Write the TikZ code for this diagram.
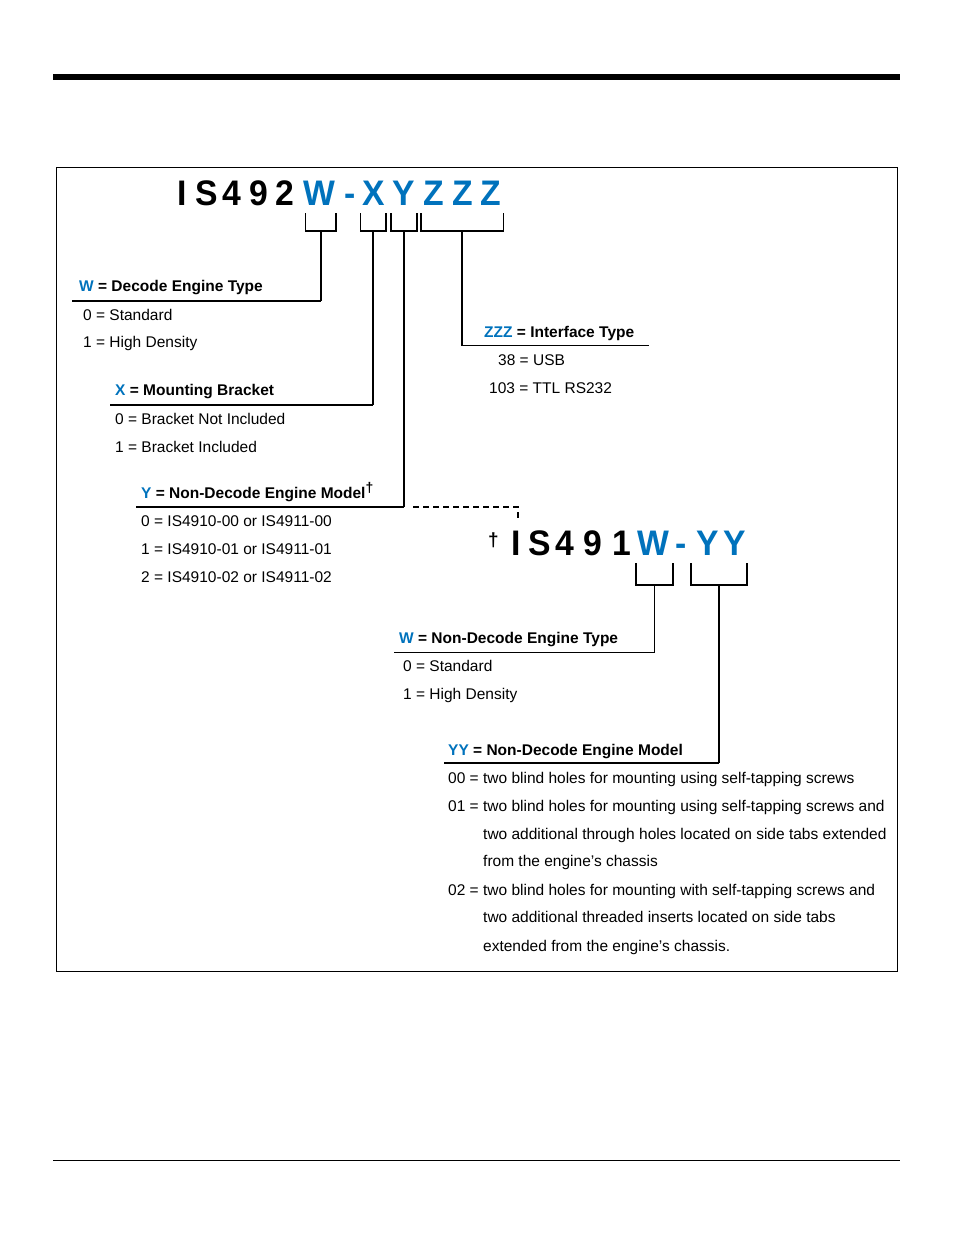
\documentclass[tikz,border=0pt]{standalone}
\usepackage{fontspec}
\setmainfont{Liberation Sans}
\newfontfamily\titlefont[FakeStretch=0.95]{Liberation Sans}
\definecolor{hblue}{RGB}{0,114,188}
\begin{document}
\begin{tikzpicture}[x=1pt,y=-1pt,
  body/.style={anchor=base west,inner sep=0pt,font=\fontsize{15.5}{18}\selectfont},
  head/.style={anchor=base west,inner sep=0pt,font=\fontsize{15.5}{18}\selectfont\bfseries},
  big/.style={anchor=base,inner sep=0pt,font=\titlefont\fontsize{35.5}{40}\selectfont\bfseries},
  bigb/.style={big,text=hblue},
  rulel/.style={line width=1.7pt},
  brk/.style={line width=1.4pt},
  dashl/.style={line width=1.3pt,dash pattern=on 6pt off 4pt},
]
\useasboundingbox (0,0) rectangle (954,1235);
% page rules and frame
\fill (53,74) rectangle (900,80);
\draw[line width=0.8pt] (53,1160) -- (900,1160);
\draw[line width=0.8pt] (56,167) rectangle (897,971);

% ---- top part number
\node[big]  (t1) at (182,205.5) {I};
\node[big]  (t2) at (206.5,205.5) {S};
\node[big]  (t3) at (231.5,205.5) {4};
\node[big]  (t4) at (259,205.5) {9};
\node[big]  (t5) at (285,205.5) {2};
\node[bigb] (t6) at (319,205.5) {W};
\node[bigb] (t7) at (350,205.5) {-};
\node[bigb] (t8) at (373.5,205.5) {X};
\node[bigb] (t9) at (403.5,205.5) {Y};
\node[bigb] (t10) at (434,205.5) {Z};
\node[bigb] (t11) at (462.5,205.5) {Z};
\node[bigb] (t12) at (491,205.5) {Z};

% brackets
\draw[brk] (305.5,213) |- (336,231) -- (336,213);
\draw[brk] (360.5,213) |- (386,231) -- (386,213);
\draw[brk] (391,213) |- (417,231) -- (417,213);
\draw[brk] (421,213) |- (503.5,231) -- (503.5,213);
\coordinate (sW) at (321,231);
\coordinate (sX) at (373,231);
\coordinate (sY) at (404,231);
\coordinate (sZ) at (462,231);

% ---- W block
\coordinate (lW) at (72,301);
\coordinate (eW) at (321,301);
\draw[rulel] (lW) -- (eW);
\draw[brk] (sW) -- (eW);
\node[head] (hW) at (79,291.5) {{\color{hblue}W} = Decode Engine Type};
\node[body] (w0) at (83,320) {0 = Standard};
\node[body] (w1) at (83,347.5) {1 = High Density};

% ---- X block
\coordinate (lX) at (110,405);
\coordinate (eX) at (373,405);
\draw[rulel] (lX) -- (eX);
\draw[brk] (sX) -- (eX);
\node[head] (hX) at (115,395) {{\color{hblue}X} = Mounting Bracket};
\node[body] (x0) at (115,424) {0 = Bracket Not Included};
\node[body] (x1) at (115,452) {1 = Bracket Included};

% ---- Y block
\coordinate (lY) at (136,507);
\coordinate (eY) at (404,507);
\draw[rulel] (lY) -- (eY);
\draw[brk] (sY) -- (eY);
\node[head] (hY) at (141,498.3) {{\color{hblue}Y} = Non-Decode Engine Model\raisebox{0.36em}{\fontsize{14}{14}\selectfont †}};
\node[body] (y0) at (141,526.7) {0 = IS4910-00 or IS4911-00};
\node[body] (y1) at (141,554) {1 = IS4910-01 or IS4911-01};
\node[body] (y2) at (141,582) {2 = IS4910-02 or IS4911-02};

% ---- ZZZ block
\coordinate (lZ) at (462,345.5);
\coordinate (eZ) at (649,345.5);
\draw[rulel] (lZ) -- (eZ);
\draw[brk] (sZ) -- (lZ);
\node[head] (hZ) at (484,337) {{\color{hblue}ZZZ} = Interface Type};
\node[body] (z0) at (498,365) {38 = USB};
\node[body] (z1) at (489,393) {103 = TTL RS232};

% ---- dashed link
\coordinate (d0) at (413,507);
\coordinate (d1) at (518,507);
\coordinate (d2) at (518,520);
\draw[dashl] (d0) -- (d1) -- (d2);

% ---- second part number
\node[anchor=base,inner sep=0pt,font=\fontsize{19}{22}\selectfont\bfseries] (dg) at (493.5,546) {†};
\node[big]  (u1) at (516.5,555.5) {I};
\node[big]  (u2) at (540,555.5) {S};
\node[big]  (u3) at (565,555.5) {4};
\node[big]  (u4) at (592.5,555.5) {9};
\node[big]  (u5) at (621.5,555.5) {1};
\node[bigb] (u6) at (653,555.5) {W};
\node[bigb] (u7) at (681,555.5) {-};
\node[bigb] (u8) at (707.5,555.5) {Y};
\node[bigb] (u9) at (735,555.5) {Y};

\draw[brk] (636,563) |- (673,585) -- (673,563);
\draw[brk] (691,563) |- (747,585) -- (747,563);
\coordinate (sW2) at (654.5,585);
\coordinate (sYY) at (719,585);

% ---- W2 block
\coordinate (lW2) at (394,652.5);
\coordinate (eW2) at (654.5,652.5);
\draw[rulel] (lW2) -- (eW2);
\draw[brk] (sW2) -- (eW2);
\node[head] (hW2) at (399,643) {{\color{hblue}W} = Non-Decode Engine Type};
\node[body] (v0) at (403,671) {0 = Standard};
\node[body] (v1) at (403,699) {1 = High Density};

% ---- YY block
\coordinate (lYY) at (444,763);
\coordinate (eYY) at (719,763);
\draw[rulel] (lYY) -- (eYY);
\draw[brk] (sYY) -- (eYY);
\node[head] (hYY) at (448,755) {{\color{hblue}YY} = Non-Decode Engine Model};
\node[body] (m0) at (448,783.3) {00 = two blind holes for mounting using self-tapping screws};
\node[body] (m1) at (448,811.5) {01 = two blind holes for mounting using self-tapping screws and};
\node[body] (m1b) at (483,839.3) {two additional through holes located on side tabs extended};
\node[body] (m1c) at (483,866.7) {from the engine’s chassis};
\node[body] (m2) at (448,895) {02 = two blind holes for mounting with self-tapping screws and};
\node[body] (m2b) at (483,922.7) {two additional threaded inserts located on side tabs};
\node[body] (m2c) at (483,951) {extended from the engine’s chassis.};
\end{tikzpicture}
\end{document}
